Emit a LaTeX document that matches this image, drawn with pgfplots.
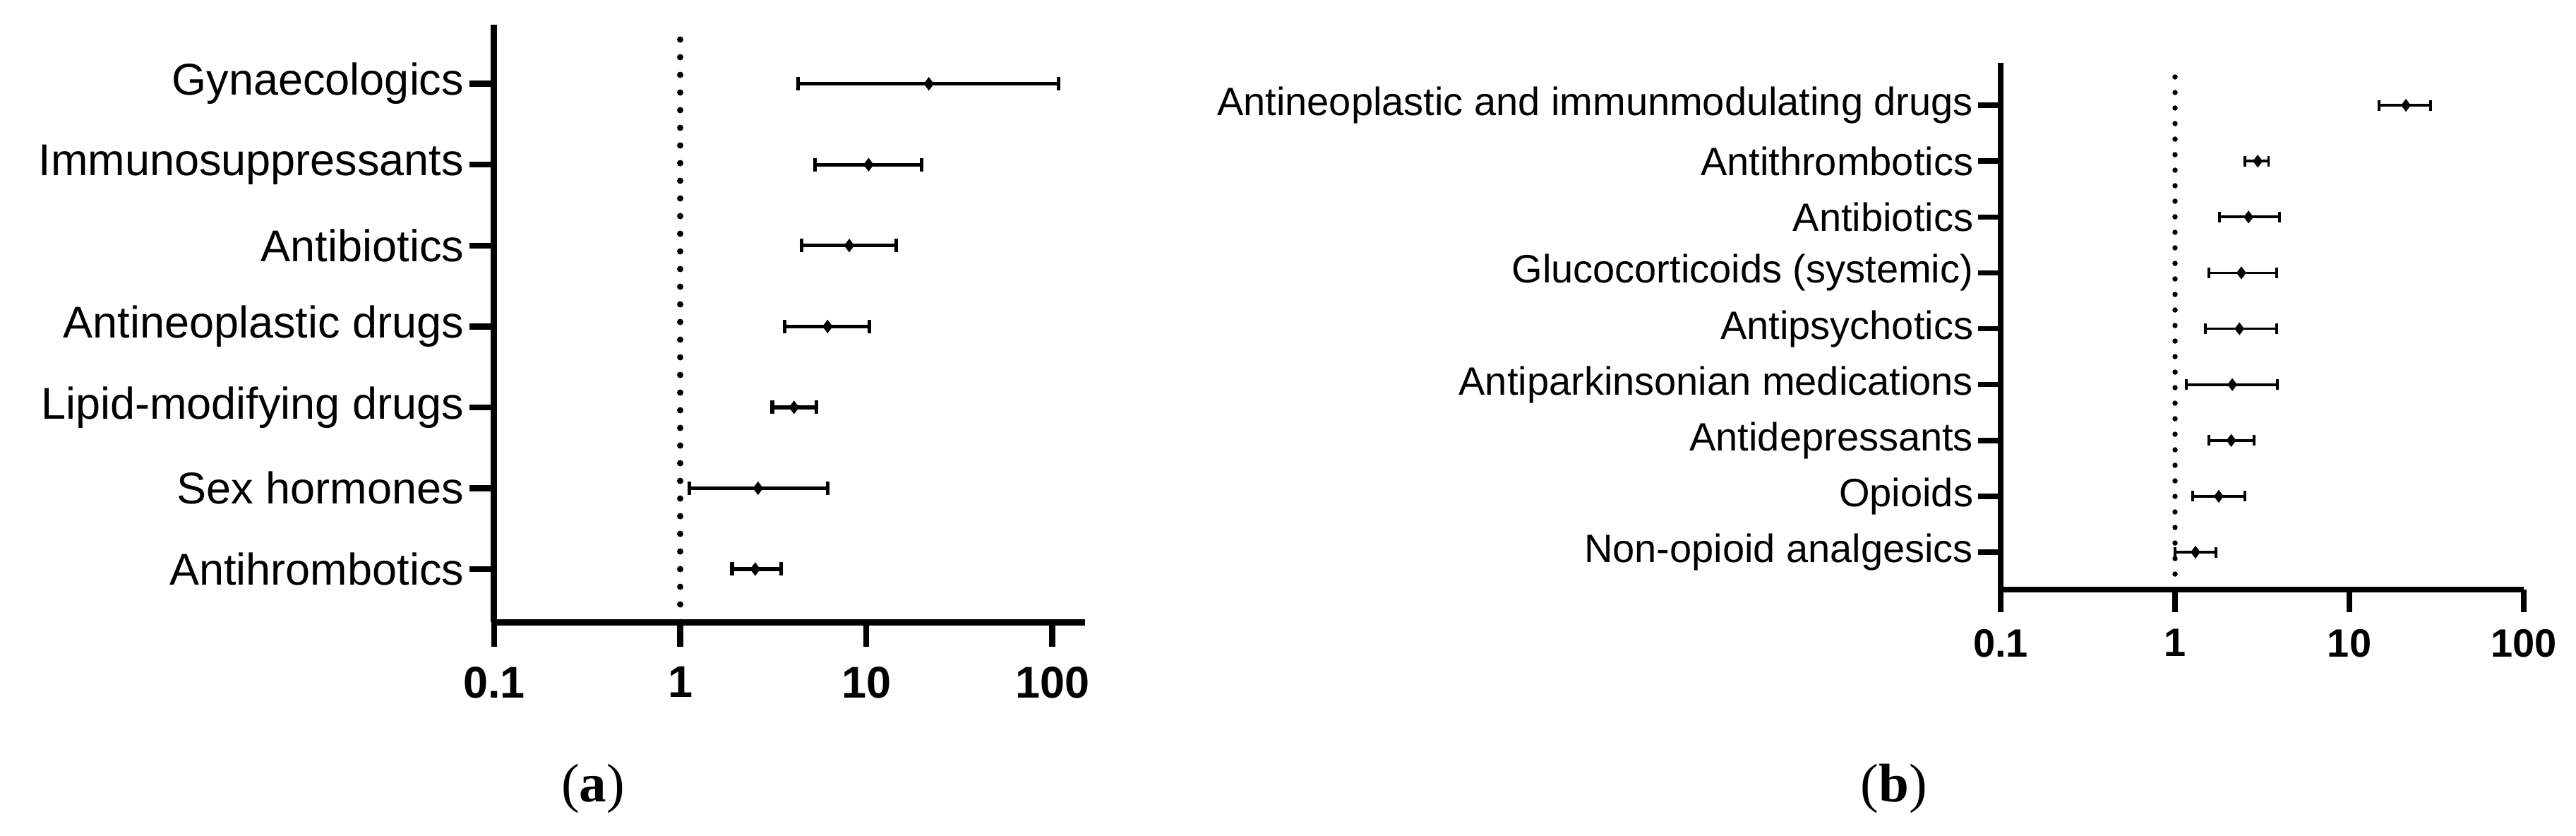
\documentclass[border=0pt]{standalone}
\usepackage{fontspec}
\setmainfont{Liberation Sans}
\newfontfamily\capfont{Liberation Serif}
\usepackage{pgfplots}
\pgfplotsset{compat=1.18}
\begin{document}
\begin{tikzpicture}
\path[use as bounding box] (0,0) rectangle (729.8pt,236.6pt);
% ---------------- panel (a) ----------------
\begin{axis}[
 at={(140pt,60.4pt)}, anchor=south west,
 scale only axis, width=167.4pt, height=169.2pt,
 xmode=log, xmin=0.1, xmax=150, ymin=-0.655, ymax=6.73,
 axis lines=left, axis line style={-, line width=1.8pt},
 xtick={0.1,1,10,100}, xticklabels={0.1,1,10,100}, xminorticks=false,
 ytick={0,1,2,3,4,5,6},
 yticklabels={Antihrombotics,Sex hormones,Lipid-modifying drugs,Antineoplastic drugs,Antibiotics,Immunosuppressants,Gynaecologics},
 tick align=outside, major tick length=7pt, tick style={line width=1.7pt, black},
 xticklabel style={font=\fontsize{12.6}{14}\selectfont\bfseries, inner sep=0pt, yshift=-5.4pt},
 yticklabel style={font=\fontsize{12.6}{14}\selectfont, inner sep=0pt, xshift=-1.4pt},
 /pgf/number format/assume math mode=true,
 clip=false,
]
\addplot[black, line width=1.8pt, line cap=round, dash pattern=on 0pt off 5pt] coordinates {(1,-0.655) (1,6.7)};
\pgfplotsset{cistyle/.style={black, line width=1.05pt, mark=|, mark size=1.9pt, mark options={solid, line width=1.05pt}}}
\addplot[cistyle] coordinates {(4.3,6) (108,6)};
\addplot[cistyle] coordinates {(5.3,5) (19.9,5)};
\addplot[cistyle] coordinates {(4.48,4) (14.5,4)};
\addplot[cistyle] coordinates {(3.65,3) (10.4,3)};
\addplot[cistyle] coordinates {(3.13,2) (5.4,2)};
\addplot[cistyle] coordinates {(1.12,1) (6.2,1)};
\addplot[cistyle] coordinates {(1.9,0) (3.49,0)};
\addplot[only marks, mark=diamond*, mark size=1.6pt, black] coordinates {
 (21.7,6) (10.3,5) (8.1,4) (6.2,3) (4.09,2) (2.62,1) (2.53,0)};
\end{axis}
% ---------------- panel (b) ----------------
\begin{axis}[
 at={(566.8pt,69.6pt)}, anchor=south west,
 scale only axis, width=148.2pt, height=149.2pt,
 xmode=log, xmin=0.1, xmax=100, ymin=-0.67, ymax=8.76,
 axis lines=left, axis line style={-, line width=1.5pt},
 xtick={0.1,1,10,100}, xticklabels={0.1,1,10,100}, xminorticks=false,
 ytick={0,1,2,3,4,5,6,7,8},
 yticklabels={Non-opioid analgesics,Opioids,Antidepressants,Antiparkinsonian medications,Antipsychotics,Glucocorticoids (systemic),Antibiotics,Antithrombotics,Antineoplastic and immunmodulating drugs},
 tick align=outside, major tick length=6.4pt, tick style={line width=1.5pt, black},
 xticklabel style={font=\fontsize{11.2}{13}\selectfont\bfseries, inner sep=0pt, yshift=-4.6pt},
 yticklabel style={font=\fontsize{11.2}{13}\selectfont, inner sep=0pt, xshift=-1.2pt},
 /pgf/number format/assume math mode=true,
 clip=false,
]
\addplot[black, line width=1.5pt, line cap=round, dash pattern=on 0pt off 4.4pt] coordinates {(1,-0.67) (1,8.72)};
\pgfplotsset{cistyleb/.style={black, line width=0.75pt, mark=|, mark size=1.5pt, mark options={solid, line width=0.75pt}}}
\addplot[cistyleb] coordinates {(14.8,8) (29.2,8)};
\addplot[cistyleb] coordinates {(2.52,7) (3.44,7)};
\addplot[cistyleb] coordinates {(1.80,6) (3.97,6)};
\addplot[cistyleb] coordinates {(1.56,5) (3.83,5)};
\addplot[cistyleb] coordinates {(1.49,4) (3.83,4)};
\addplot[cistyleb] coordinates {(1.16,3) (3.87,3)};
\addplot[cistyleb] coordinates {(1.56,2) (2.84,2)};
\addplot[cistyleb] coordinates {(1.26,1) (2.52,1)};
\addplot[cistyleb] coordinates {(1.0,0) (1.72,0)};
\addplot[only marks, mark=diamond*, mark size=1.5pt, black] coordinates {
 (21.1,8) (2.98,7) (2.64,6) (2.40,5) (2.34,4) (2.13,3) (2.10,2) (1.78,1) (1.31,0)};
\end{axis}
\node[anchor=base, font=\capfont\fontsize{15.4}{18}\selectfont] at (168pt,9.6pt) {(\textbf{a})};
\node[anchor=base, font=\capfont\fontsize{15.4}{18}\selectfont] at (536.6pt,9.6pt) {(\textbf{b})};
\end{tikzpicture}
\end{document}
